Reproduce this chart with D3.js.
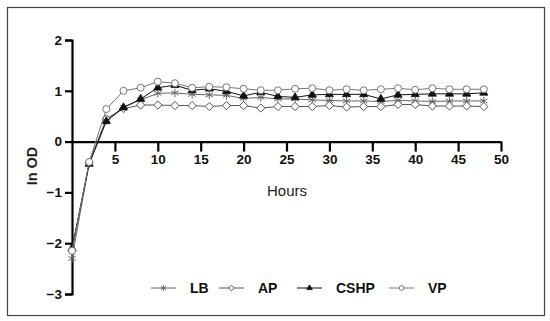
<!DOCTYPE html>
<html>
<head>
<meta charset="utf-8">
<script src="https://cdn.jsdelivr.net/npm/d3@7"></script>
<style>
  body { margin: 0; background: #fff; }
  svg text { font-family: 'Liberation Sans', Arial, sans-serif; }
</style>
</head>
<body>
<svg id="chart" width="550" height="321"></svg>
<script>
// time points (hours)
const hours = [0, 2, 4, 6, 8, 10, 12, 14, 16, 18, 20, 22, 24, 26, 28, 30, 32, 34, 36, 38, 40, 42, 44, 46, 48]

// ln OD per medium
const lbValues = [-2.3, -0.43, 0.42, 0.68, 0.82, 0.95, 0.96, 0.93, 0.92, 0.91, 0.85, 0.87, 0.84, 0.84, 0.82, 0.81, 0.8, 0.8, 0.79, 0.81, 0.8, 0.79, 0.8, 0.8, 0.8]
const apValues = [-2.15, -0.42, 0.45, 0.65, 0.72, 0.72, 0.71, 0.71, 0.69, 0.71, 0.71, 0.66, 0.69, 0.69, 0.69, 0.71, 0.68, 0.69, 0.69, 0.73, 0.73, 0.7, 0.7, 0.7, 0.69]
const cshpValues = [-2.1, -0.44, 0.4, 0.67, 0.84, 1.06, 1.11, 1.01, 1.04, 0.99, 0.9, 0.97, 0.89, 0.87, 0.92, 0.93, 0.93, 0.93, 0.84, 0.92, 0.93, 0.94, 0.94, 0.94, 0.96]
const vpValues = [-2.15, -0.4, 0.64, 1.0, 1.06, 1.18, 1.15, 1.06, 1.08, 1.07, 1.04, 1.01, 1.01, 1.04, 1.05, 1.01, 1.03, 1.01, 1.03, 1.05, 1.02, 1.05, 1.03, 1.03, 1.03]

const seriesNames = ['LB', 'AP', 'CSHP', 'VP']
const xTicks = [5, 10, 15, 20, 25, 30, 35, 40, 45, 50]
const yTicks = [-3, -2, -1, 0, 1, 2]

const series = [
  { name: 'LB', values: lbValues, symbol: 'star', color: '#666', fill: '#666' },
  { name: 'AP', values: apValues, symbol: 'diamond', color: '#555', fill: '#fff' },
  { name: 'CSHP', values: cshpValues, symbol: 'triangle', color: '#111', fill: '#111' },
  { name: 'VP', values: vpValues, symbol: 'circle', color: '#777', fill: '#fff' },
]

const svg = d3.select('#chart')

// outer frame
svg.append('rect')
  .attr('x', 7.5).attr('y', 7.5)
  .attr('width', 537).attr('height', 308)
  .attr('fill', 'none').attr('stroke', '#444').attr('stroke-width', 1.2)

const x = d3.scaleLinear().domain([0, 50]).range([72, 501])
const y = d3.scaleLinear().domain([-3, 2]).range([294, 40])

// y axis
const yAxis = d3.axisLeft(y).tickValues(yTicks).tickSize(7).tickPadding(3)
  .tickFormat(d => d < 0 ? '\u2212' + Math.abs(d) : d)
const gy = svg.append('g').attr('transform', `translate(${x(0)},0)`).call(yAxis)
gy.select('.domain').attr('stroke', '#000').attr('stroke-width', 2.2)
gy.selectAll('.tick line').attr('stroke', '#000').attr('stroke-width', 2.2)
gy.selectAll('.tick text').attr('font-size', 13.5).attr('font-weight', 'bold').attr('fill', '#111')

// x axis at y = 0
const xAxis = d3.axisBottom(x).tickValues(xTicks).tickSize(10).tickSizeOuter(0).tickPadding(3)
const gx = svg.append('g').attr('transform', `translate(0,${y(0)})`).call(xAxis)
gx.select('.domain').attr('stroke', '#000').attr('stroke-width', 2.2)
gx.selectAll('.tick line').attr('stroke', '#000').attr('stroke-width', 2.2)
gx.selectAll('.tick text').attr('font-size', 13.5).attr('font-weight', 'bold').attr('fill', '#111')

// axis titles
svg.append('text')
  .attr('x', 287).attr('y', 196)
  .attr('text-anchor', 'middle')
  .attr('font-size', 15).attr('fill', '#222')
  .text('Hours')

svg.append('text')
  .attr('transform', `translate(37,${166}) rotate(-90)`)
  .attr('text-anchor', 'middle')
  .attr('font-size', 14.5).attr('font-weight', 'bold').attr('fill', '#222')
  .text('In OD')

// marker drawing
const drawMarker = (g, s, size) => {
  if (s.symbol === 'star') {
    g.append('path')
      .attr('d', d3.symbol().type(d3.symbolAsterisk).size(size)())
      .attr('stroke', s.color).attr('stroke-width', 1).attr('fill', 'none')
  } else if (s.symbol === 'diamond') {
    g.append('path')
      .attr('d', d3.symbol().type(d3.symbolDiamond2).size(size * 0.9)())
      .attr('stroke', s.color).attr('stroke-width', 1).attr('fill', s.fill)
  } else if (s.symbol === 'triangle') {
    g.append('path')
      .attr('d', d3.symbol().type(d3.symbolTriangle).size(size * 0.6)())
      .attr('stroke', s.color).attr('stroke-width', 0.8).attr('fill', s.fill)
  } else {
    g.append('path')
      .attr('d', d3.symbol().type(d3.symbolCircle).size(size * 0.8)())
      .attr('stroke', s.color).attr('stroke-width', 1).attr('fill', s.fill)
  }
}

const line = d3.line().x((d, i) => x(hours[i])).y(d => y(d))

series.forEach(s => {
  const g = svg.append('g')
  g.append('path')
    .datum(s.values)
    .attr('d', line)
    .attr('fill', 'none')
    .attr('stroke', s.color)
    .attr('stroke-width', 1)
  s.values.forEach((v, i) => {
    const m = g.append('g').attr('transform', `translate(${x(hours[i])},${y(v)})`)
    drawMarker(m, s, 48)
  })
})

// legend
const legendX = [151, 219, 297, 389]
series.forEach((s, i) => {
  const g = svg.append('g').attr('transform', `translate(${legendX[i]},288)`)
  g.append('line').attr('x1', 0).attr('x2', 25).attr('y1', 0).attr('y2', 0)
    .attr('stroke', s.color).attr('stroke-width', 1)
  const m = g.append('g').attr('transform', 'translate(12.5,0)')
  drawMarker(m, s, 22)
  g.append('text')
    .attr('x', 39).attr('y', 5)
    .attr('font-size', 14).attr('font-weight', 'bold').attr('fill', '#111')
    .text(seriesNames[i])
})
</script>
</body>
</html>
